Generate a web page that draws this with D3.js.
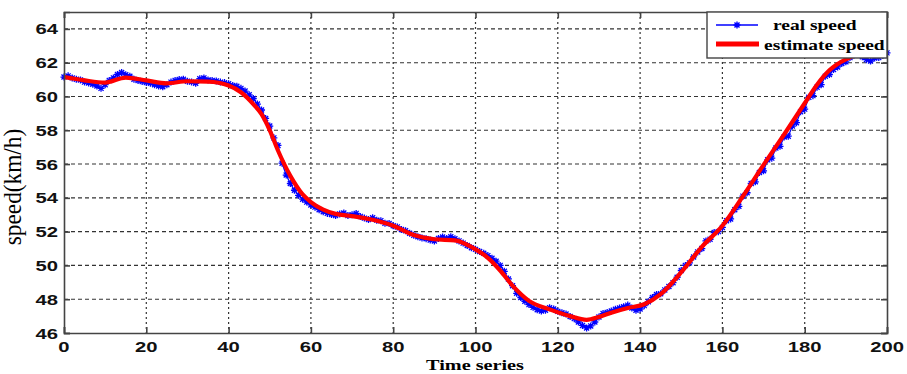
<!DOCTYPE html>
<html>
<head>
<meta charset="utf-8">
<script src="https://cdnjs.cloudflare.com/ajax/libs/d3/7.8.5/d3.min.js"></script>
<style>
  body { margin: 0; background: #fff; }
  .tick-label { font-family: "Liberation Sans", Arial, sans-serif; font-weight: bold; font-size: 15px; fill: #111; }
  .serif { font-family: "Liberation Serif", "Times New Roman", serif; fill: #000; }
</style>
</head>
<body>
<svg id="chart" width="907" height="374"></svg>
<script>
// x ticks + y ticks
var xTicks = [0, 20, 40, 60, 80, 100, 120, 140, 160, 180, 200];
var yTicks = [46, 48, 50, 52, 54, 56, 58, 60, 62, 64];

// real speed, one sample per step 0..200
var realSpeed = [
  61.15, 61.22, 61.10, 61.02, 60.98, 60.85, 60.80, 60.72, 60.62, 60.48,
  60.70, 60.95, 61.10, 61.30, 61.42, 61.28, 61.20, 61.02, 60.95, 60.88,
  60.82, 60.78, 60.70, 60.62, 60.58, 60.70, 60.85, 60.95, 61.00, 61.02,
  60.90, 60.85, 60.78, 61.05, 61.10, 60.98, 60.95, 60.92, 60.85, 60.82,
  60.75, 60.65, 60.60, 60.48, 60.32, 60.10, 59.88, 59.55, 59.20, 58.70,
  58.25, 57.55, 57.10, 56.05, 55.35, 54.85, 54.45, 54.15, 53.92, 53.75,
  53.58, 53.45, 53.30, 53.18, 53.08, 53.02, 52.95, 53.05, 53.10, 52.95,
  53.00, 53.08, 52.90, 52.80, 52.72, 52.82, 52.68, 52.65, 52.50, 52.48,
  52.35, 52.28, 52.12, 52.05, 51.90, 51.78, 51.70, 51.62, 51.58, 51.50,
  51.45, 51.60, 51.68, 51.60, 51.70, 51.58, 51.45, 51.32, 51.18, 51.05,
  50.95, 50.82, 50.72, 50.58, 50.42, 50.25, 50.00, 49.65, 49.20, 48.80,
  48.35, 48.10, 47.88, 47.68, 47.52, 47.38, 47.30, 47.35, 47.50, 47.42,
  47.28, 47.20, 47.12, 46.98, 46.85, 46.65, 46.45, 46.30, 46.42, 46.65,
  46.95, 47.15, 47.22, 47.30, 47.40, 47.48, 47.55, 47.65, 47.48, 47.35,
  47.42, 47.62, 47.85, 48.10, 48.28, 48.32, 48.55, 48.75, 48.98, 49.30,
  49.70, 50.00, 50.15, 50.50, 50.80, 51.00, 51.45, 51.55, 51.95, 52.00,
  52.25, 52.65, 52.75, 53.30, 53.50, 54.10, 54.30, 54.85, 54.95, 55.50,
  55.60, 56.25, 56.35, 56.95, 57.05, 57.60, 57.65, 58.25, 58.45, 59.10,
  59.25, 59.95, 60.05, 60.55, 60.70, 61.20, 61.30, 61.60, 61.75, 61.95,
  62.05, 62.30, 62.45, 62.55, 62.35, 62.18, 62.10, 62.28, 62.30, 62.42,
  62.58
];

// estimate speed (smooth one), read at these x's
var estTime = [0, 5, 10, 15, 20, 25, 30, 35, 40, 43, 46, 48, 50, 52, 55, 58, 60, 63, 66, 70,
  75, 80, 85, 90, 95, 100, 103, 106, 109, 113, 118, 123, 127, 130, 133, 137, 141, 145, 150,
  155, 160, 165, 170, 175, 180, 183, 186, 190, 195, 200];
var estSpeed = [61.15, 60.95, 60.82, 61.12, 60.95, 60.78, 60.90, 60.88, 60.65, 60.25, 59.55,
  58.95, 58.00, 56.80, 55.30, 54.20, 53.75, 53.30, 53.05, 52.92, 52.70, 52.35, 51.80, 51.55,
  51.48, 50.95, 50.45, 49.70, 48.80, 47.90, 47.40, 47.00, 46.78, 46.95, 47.20, 47.48, 47.70,
  48.30, 49.60, 51.10, 52.35, 54.10, 55.95, 57.75, 59.60, 60.70, 61.55, 62.20, 62.55, 62.60];

var seriesNames = ["real speed", "estimate speed"];

var svg = d3.select("#chart");
// plot box edges (don't call these top/left, window.top is taken)
var pLeft = 64, pRight = 887, pTop = 12, pBottom = 333;

var x = d3.scaleLinear().domain([0, 200]).range([pLeft, pRight]);
var y = d3.scaleLinear().domain([46, 65]).range([pBottom, pTop]);

//grid lines, dashed across, dotted down
function drawGrid() {
  var g = svg.append("g").attr("class", "grid");
  g.selectAll(".hgrid")
      .data(yTicks.filter(function(d) { return d > 46; }))
      .enter().append("line")
      .attr("x1", pLeft).attr("x2", pRight)
      .attr("y1", function(d) { return y(d); })
      .attr("y2", function(d) { return y(d); })
      .attr("stroke", "#333")
      .attr("stroke-width", 1.1)
      .attr("stroke-dasharray", "4,3");
  g.selectAll(".vgrid")
      .data(xTicks.filter(function(d) { return d > 0 && d < 200; }))
      .enter().append("line")
      .attr("y1", pTop).attr("y2", pBottom)
      .attr("x1", function(d) { return x(d); })
      .attr("x2", function(d) { return x(d); })
      .attr("stroke", "#333")
      .attr("stroke-width", 1.2)
      .attr("stroke-dasharray", "2,3");
}

//box + inward ticks on all 4 sides (matlab style)
function drawAxes() {
  var axisColor = "#444";
  svg.append("g")
      .attr("transform", "translate(0," + pBottom + ")")
      .call(d3.axisTop(x).tickValues(xTicks).tickSize(6).tickFormat(""))
      .call(styleAxis);
  svg.append("g")
      .attr("transform", "translate(0," + pTop + ")")
      .call(d3.axisBottom(x).tickValues(xTicks).tickSize(6).tickFormat(""))
      .call(styleAxis);
  svg.append("g")
      .attr("transform", "translate(" + pLeft + ",0)")
      .call(d3.axisRight(y).tickValues(yTicks).tickSize(6).tickFormat(""))
      .call(styleAxis);
  svg.append("g")
      .attr("transform", "translate(" + pRight + ",0)")
      .call(d3.axisLeft(y).tickValues(yTicks).tickSize(6).tickFormat(""))
      .call(styleAxis);

  function styleAxis(g) {
    g.select(".domain").attr("stroke", axisColor).attr("stroke-width", 1.6);
    g.selectAll(".tick line").attr("stroke", axisColor).attr("stroke-width", 1.6);
  }

  // labels are stretched sideways like the picture
  svg.selectAll(".xlab")
      .data(xTicks)
      .enter().append("text")
      .attr("class", "tick-label")
      .attr("text-anchor", "middle")
      .attr("transform", function(d) { return "translate(" + x(d) + ",352) scale(1.35,1)"; })
      .text(function(d) { return d; });
  svg.selectAll(".ylab")
      .data(yTicks)
      .enter().append("text")
      .attr("class", "tick-label")
      .attr("text-anchor", "end")
      .attr("transform", function(d) { return "translate(58," + (y(d) + 5.5) + ") scale(1.35,1)"; })
      .text(function(d) { return d; });

  svg.append("text")
      .attr("class", "serif")
      .attr("text-anchor", "middle")
      .attr("font-weight", "bold")
      .attr("font-size", "15px")
      .attr("transform", "translate(475,370) scale(1.35,1)")
      .text("Time series");

  svg.append("text")
      .attr("class", "serif")
      .attr("text-anchor", "middle")
      .attr("font-size", "22px")
      .attr("transform", "translate(21,187) rotate(-90) scale(1.06,1.1)")
      .text("speed(km/h)");
}

//little asterisk marker
function star(cx, cy, r) {
  var d = r * 0.72;
  return "M" + (cx - r) + "," + cy + "H" + (cx + r) +
    "M" + cx + "," + (cy - r) + "V" + (cy + r) +
    "M" + (cx - d) + "," + (cy - d) + "L" + (cx + d) + "," + (cy + d) +
    "M" + (cx - d) + "," + (cy + d) + "L" + (cx + d) + "," + (cy - d);
}

function drawSeries() {
  var line = d3.line()
      .x(function(d, i) { return x(i); })
      .y(function(d) { return y(d); });

  svg.append("path")
      .datum(realSpeed)
      .attr("fill", "none")
      .attr("stroke", "#0000ff")
      .attr("stroke-width", 1.3)
      .attr("d", line);

  svg.append("g").selectAll(".dot")
      .data(realSpeed)
      .enter().append("path")
      .attr("class", "dot")
      .attr("d", function(d, i) { return star(x(i), y(d), 3.5); })
      .attr("stroke", "#0000ff")
      .attr("stroke-width", 1.3);

  var est = estTime.map(function(t, i) { return [t, estSpeed[i]]; });
  svg.append("path")
      .datum(est)
      .attr("fill", "none")
      .attr("stroke", "#ff0000")
      .attr("stroke-width", 4.2)
      .attr("stroke-linejoin", "round")
      .attr("d", d3.line()
          .curve(d3.curveMonotoneX)
          .x(function(d) { return x(d[0]); })
          .y(function(d) { return y(d[1]); }));
}

function drawLegend() {
  var lg = svg.append("g");
  lg.append("rect")
      .attr("x", 707).attr("y", pTop)
      .attr("width", pRight - 707).attr("height", 46)
      .attr("fill", "#fff")
      .attr("stroke", "#444")
      .attr("stroke-width", 1.4);
  lg.append("line")
      .attr("x1", 716).attr("x2", 758).attr("y1", 25).attr("y2", 25)
      .attr("stroke", "#0000ff").attr("stroke-width", 1.4);
  lg.append("path")
      .attr("d", star(737, 25, 3.5))
      .attr("stroke", "#0000ff").attr("stroke-width", 1.4);
  lg.append("line")
      .attr("x1", 716).attr("x2", 759).attr("y1", 44).attr("y2", 44)
      .attr("stroke", "#ff0000").attr("stroke-width", 5);

  lg.selectAll(".legtext")
      .data(seriesNames)
      .enter().append("text")
      .attr("class", "serif")
      .attr("font-weight", "bold")
      .attr("font-size", "15px")
      .attr("transform", function(d, i) {
        return i == 0 ? "translate(773,30) scale(1.3,1)" : "translate(764,49.5) scale(1.3,1)";
      })
      .text(function(d) { return d; });
}

drawGrid();
drawSeries();
drawAxes();
drawLegend();
</script>
</body>
</html>
